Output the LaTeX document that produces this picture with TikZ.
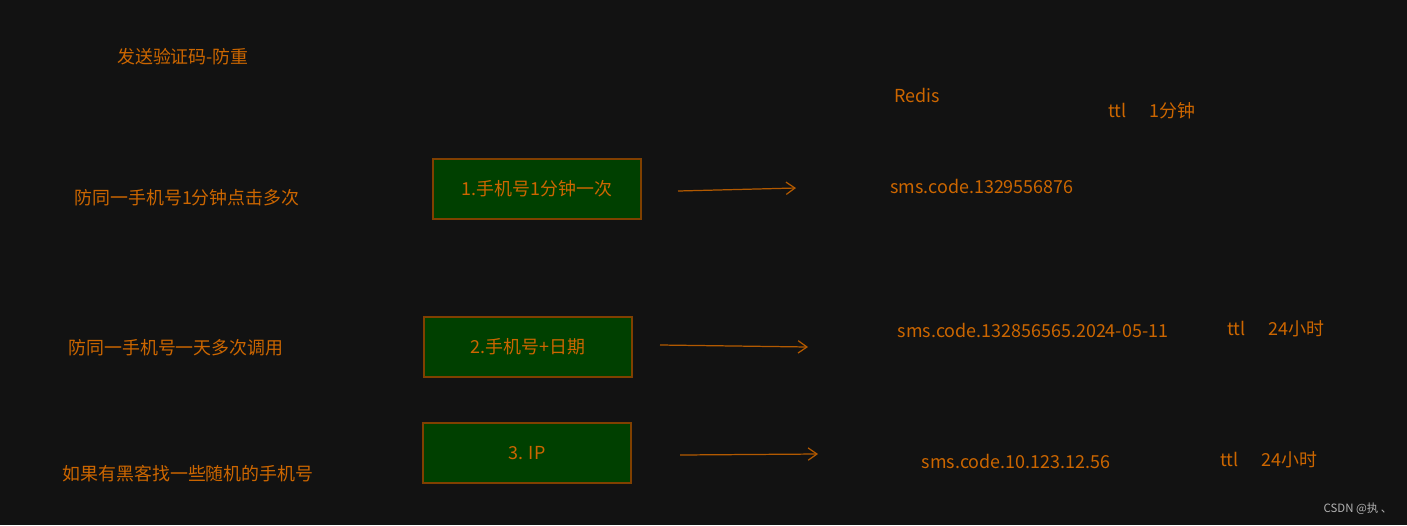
\documentclass[tikz,border=0pt]{standalone}
\usepackage{fontspec}
\setmainfont{Noto Sans CJK SC}
\begin{document}
\begin{tikzpicture}[x=0.02cm,y=-0.02cm,
  txt/.style={text=orange!80!black, font=\fontsize{10.2}{12}\selectfont, inner sep=0pt},
  box/.style={draw=orange!50!black, line width=0.8pt, fill=green!25!black, minimum width=4.16cm, minimum height=1.2cm, txt},
  arr/.style={draw=orange!70!black, line width=0.7pt, -{Straight Barb[length=5pt,width=7pt]}}]
\usetikzlibrary{arrows.meta}
\definecolor{bg}{HTML}{121212}
\fill[bg] (0,0) rectangle (1407,525);
\useasboundingbox (0,0) rectangle (1407,525);
\node[txt] (title) at (183,57) {发送验证码-防重};
\node[txt] (redis) at (917,95) {Redis};
\node[txt] (ttl1) at (1152,111) {ttl\hspace{1.3em}1分钟};
\node[txt] (l1) at (187,198) {防同一手机号1分钟点击多次};
\node[txt] (l2) at (176,348) {防同一手机号一天多次调用};
\node[txt] (l3) at (188,474) {如果有黑客找一些随机的手机号};
\node[box] (b1) at (537,189) {1.手机号1分钟一次};
\node[box] (b2) at (528,347) {2.手机号+日期};
\node[box] (b3) at (527,453) {3. IP};
\node[txt] (k1) at (982,186) {sms.code.1329556876};
\node[txt] (k2) at (1033,330) {sms.code.132856565.2024-05-11};
\node[txt] (t2) at (1276,329) {ttl\hspace{1.3em}24小时};
\node[txt] (k3) at (1016,461) {sms.code.10.123.12.56};
\node[txt] (t3) at (1269,460) {ttl\hspace{1.3em}24小时};
\coordinate (a1s) at (678,191); \coordinate (a1e) at (796,188);
\coordinate (a2s) at (660,345); \coordinate (a2e) at (808,347);
\coordinate (a3s) at (680,455); \coordinate (a3e) at (818,454);
\draw[arr] (a1s) -- (a1e);
\draw[arr] (a2s) -- (a2e);
\draw[arr] (a3s) -- (a3e);
\node[text=gray!60, font=\fontsize{6.5}{8}\selectfont, inner sep=0pt] (wm) at (1358,509) {CSDN @执 、};
\end{tikzpicture}
\end{document}
